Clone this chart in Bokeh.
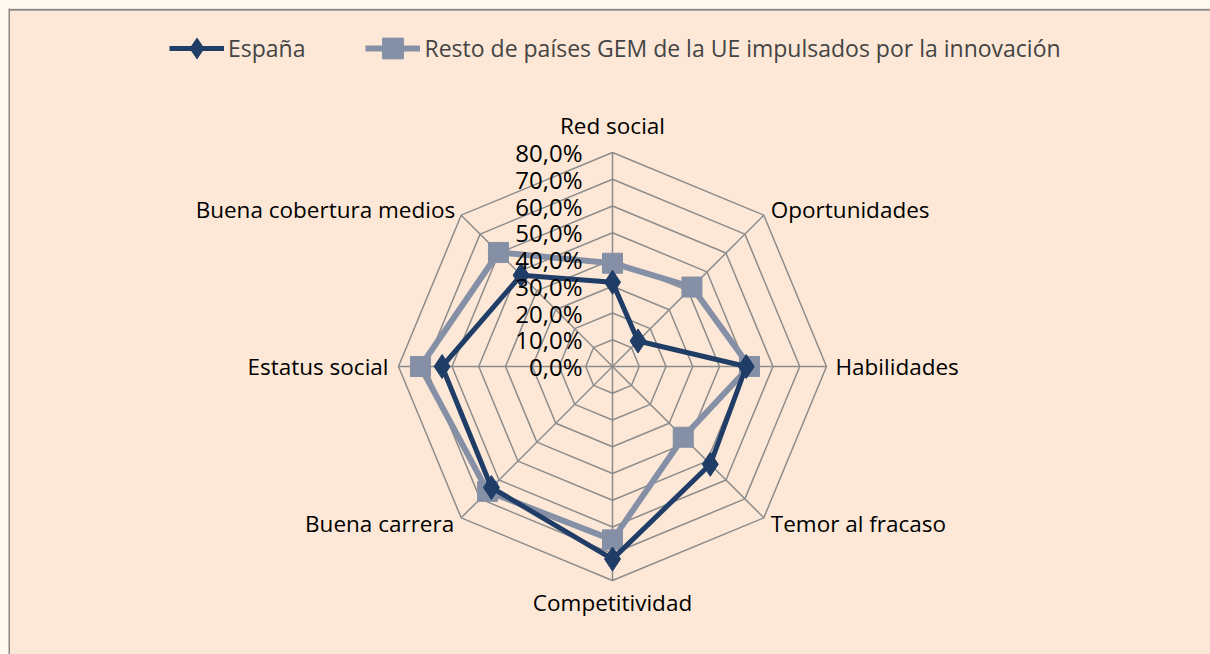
import math, re
from bokeh.plotting import figure
from bokeh.models import Range1d, Span, Legend, LegendItem, ColumnDataSource
from bokeh.core.properties import value
from bokeh.embed import file_html
from bokeh.resources import INLINE

# ---- data ----
categories = ["Red social", "Oportunidades", "Habilidades", "Temor al fracaso",
              "Competitividad", "Buena carrera", "Estatus social", "Buena cobertura medios"]
espana = [31.5, 13.5, 50.0, 51.7, 72.0, 64.0, 63.7, 48.3]
resto = [38.6, 42.0, 51.2, 37.4, 64.8, 66.0, 71.8, 60.3]
levels = [0, 10, 20, 30, 40, 50, 60, 70, 80]
tick_labels = ["0,0%", "10,0%", "20,0%", "30,0%", "40,0%", "50,0%", "60,0%", "70,0%", "80,0%"]
series_names = ["España", "Resto de países GEM de la UE impulsados por la innovación"]

# ---- styles ----
FONT = "Open Sans"
BG = "#FDE8D7"
C_ES = "#1F3D66"
C_RE = "#8590A6"
GRID = "#8C8C8C"
lab_align = ["center", "left", "left", "left", "center", "right", "right", "right"]
lab_base = ["bottom", "middle", "middle", "middle", "top", "middle", "middle", "middle"]
lab_dx = [0, 7, 9, 7, 0, -7, -10, -6]
lab_dy = [-12, -6, 0, 6, 6, 6, 0, -6]

W, H = 1202, 646
SCALE = 214 / 80.0          # px per percent unit
CX, CY = 604, 358           # centre in frame px (from top-left)

p = figure(width=W, height=H, output_backend="svg", toolbar_location=None,
           x_range=Range1d(-CX / SCALE, (W - CX) / SCALE),
           y_range=Range1d(-(H - CY) / SCALE, CY / SCALE),
           min_border=0, background_fill_color=BG, border_fill_color=BG,
           outline_line_color=None)
p.axis.visible = False
p.grid.visible = False

n = len(categories)
ang = [math.pi / 2 - i * 2 * math.pi / n for i in range(n)]

# grid polygons
gx, gy = [], []
for lv in levels[1:]:
    gx.append([lv * math.cos(a) for a in ang] + [lv * math.cos(ang[0])])
    gy.append([lv * math.sin(a) for a in ang] + [lv * math.sin(ang[0])])
p.multi_line(gx, gy, line_color=GRID, line_width=1.5)
# spokes
top = levels[-1]
p.multi_line([[0, top * math.cos(a)] for a in ang], [[0, top * math.sin(a)] for a in ang],
             line_color=GRID, line_width=1.5)

# series
def pts(vals):
    xs = [v * math.cos(a) for v, a in zip(vals, ang)]
    ys = [v * math.sin(a) for v, a in zip(vals, ang)]
    return xs + [xs[0]], ys + [ys[0]]

rx, ry = pts(resto)
r_line = p.line(rx, ry, line_color=C_RE, line_width=6)
r_mark = p.scatter(rx[:-1], ry[:-1], marker="square", size=20, fill_color=C_RE, line_color=C_RE)
ex, ey = pts(espana)
e_line = p.line(ex, ey, line_color=C_ES, line_width=5)
e_mark = p.scatter(ex[:-1], ey[:-1], marker="diamond", size=24, fill_color=C_ES, line_color=C_ES)

# tick labels
p.text(x=[0] * len(levels), y=levels, text=tick_labels, x_offset=-30,
       text_align="right", text_baseline="middle", text_font=value(FONT),
       text_font_size="24px", text_color="#000000")

# category labels
src = ColumnDataSource(dict(
    x=[top * math.cos(a) for a in ang], y=[top * math.sin(a) for a in ang],
    t=categories, al=lab_align, bl=lab_base, dx=lab_dx, dy=lab_dy))
p.text(x="x", y="y", text="t", source=src, text_align="al", text_baseline="bl",
       x_offset="dx", y_offset="dy", text_font=value(FONT), text_font_size="22.5px",
       text_color="#000000")

# legend (marker size in legend = 0.4 * min(glyph_width, glyph_height))
legend = Legend(items=[LegendItem(label=series_names[0], renderers=[e_line, e_mark]),
                       LegendItem(label=series_names[1], renderers=[r_line, r_mark])],
                orientation="horizontal", location=(161, 580), glyph_width=55,
                glyph_height=52, label_standoff=4, spacing=60, padding=0, margin=0,
                label_text_font=FONT, label_text_font_size="23px",
                background_fill_alpha=0, border_line_alpha=0)
p.add_layout(legend, "center")

# chart border (top & left)
p.add_layout(Span(location=p.x_range.start + 0.5 / SCALE, dimension="height",
                  line_color="#8C8C8C", line_width=2))
p.add_layout(Span(location=p.y_range.end - 1.2 / SCALE, dimension="width",
                  line_color="#8C8C8C", line_width=2))

html = file_html(p, INLINE)
css = "<style>html, body { margin: 0 !important; padding: 0 !important; background: #FFF8F1 !important; } body { padding: 8px !important; }</style>"
html = html.replace("</head>", css + "</head>", 1)
open("out.html", "w").write(html)
